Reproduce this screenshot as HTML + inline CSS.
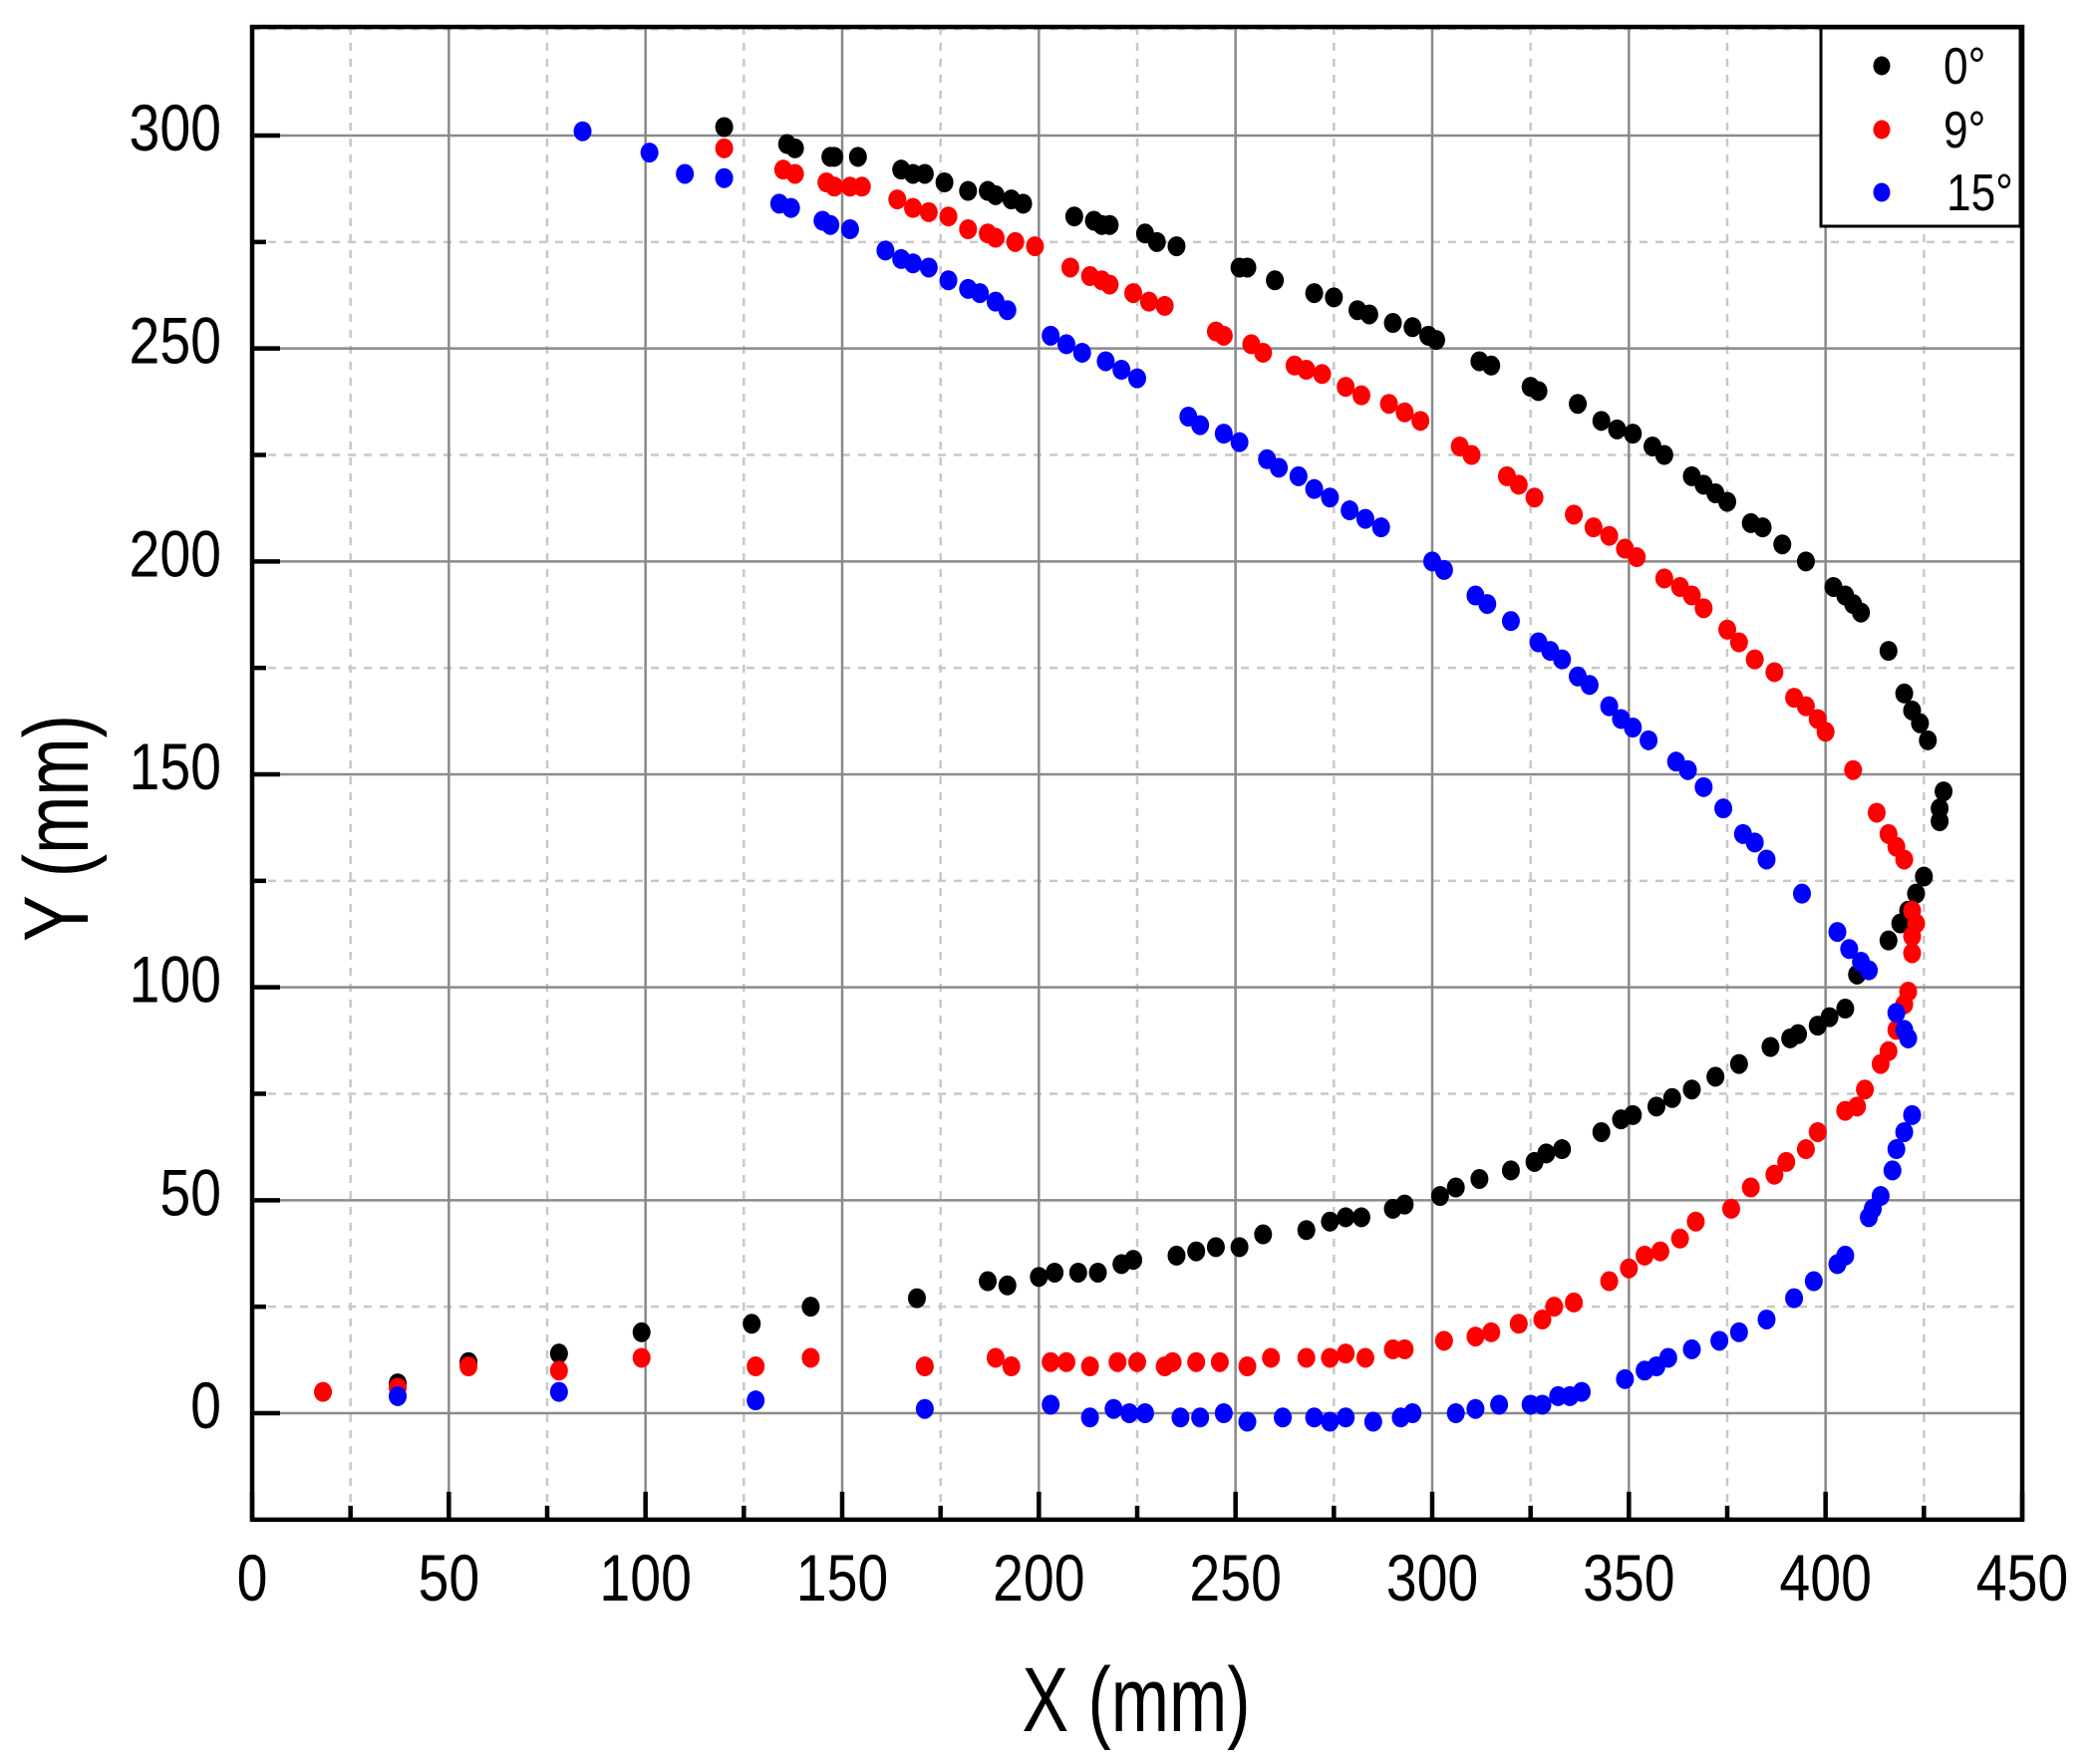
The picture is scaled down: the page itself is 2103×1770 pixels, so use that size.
<!DOCTYPE html>
<html><head><meta charset="utf-8"><style>
html,body{margin:0;padding:0;background:#fff}
svg{display:block;font-family:"Liberation Sans",Arial,sans-serif}
</style></head><body>
<svg id="chart" width="2103" height="1770" viewBox="0 0 2103 1770" xmlns="http://www.w3.org/2000/svg">
<g id="grid"></g>
<g id="series"></g>
<g id="axes"></g>
<g>
<rect x="1827" y="28" width="200" height="199" fill="#fff" stroke="#000" stroke-width="3"/>
<ellipse cx="1888" cy="66" rx="8.5" ry="9.5" fill="#000"/>
<ellipse cx="1888" cy="130" rx="8.5" ry="9.5" fill="#ff0000"/>
<ellipse cx="1888" cy="193" rx="8.5" ry="9.5" fill="#0000ff"/>
<text transform="translate(1950,84) scale(0.85,1)" font-size="52">0°</text>
<text transform="translate(1950,148) scale(0.85,1)" font-size="52">9°</text>
<text transform="translate(1953,211) scale(0.85,1)" font-size="52">15°</text>
</g>
<text transform="translate(1140,1737) scale(0.76,1)" font-size="92" text-anchor="middle">X (mm)</text>
<text transform="translate(88,831) rotate(-90) scale(0.76,1)" font-size="92" text-anchor="middle">Y (mm)</text>
</svg>
<script>
const xTicks = [0,50,100,150,200,250,300,350,400,450];
const yTicks = [0,50,100,150,200,250,300];
const xMinor = [25,75,125,175,225,275,325,375,425];
const yMinor = [-25,25,75,125,175,225,275,325];
const s0x = [120,136,138,147,148,154,165,168,171,176,182,187,189,193,196,209,214,216,218,227,230,235,251,253,260,270,275,281,284,290,295,299,301,312,315,325,327,337,343,347,351,356,359,366,369,372,375,381,384,389,395,402,405,407,409,416,420,422,424,426,430,429,429,425,423,421,419,416,408,405,401,398,393,391,386,378,372,366,361,357,351,348,343,333,329,326,320,312,306,302,293,290,282,278,274,268,257,251,245,240,235,224,221,215,210,204,200,192,187,169,142,127,99,78,55,37];
const s0y = [302,298,297,295,295,295,292,291,291,289,287,287,286,285,284,281,280,279,279,277,275,274,269,269,266,263,262,259,258,256,255,253,252,247,246,241,240,237,233,231,230,227,225,220,218,216,214,209,208,204,200,194,192,190,188,179,169,165,162,158,146,142,139,126,122,118,115,111,103,95,93,91,89,88,86,82,79,76,74,72,70,69,66,62,61,59,57,55,53,51,49,48,46,46,45,43,42,39,39,38,37,36,35,33,33,33,32,30,31,27,25,21,19,14,12,7];
const s9x = [120,135,138,146,148,152,155,164,168,172,177,182,187,189,194,199,208,213,216,218,224,228,232,245,247,254,257,265,268,272,278,282,289,293,297,307,310,319,322,326,336,341,345,349,352,359,363,366,369,375,378,382,387,392,395,398,400,407,413,416,418,420,422,423,422,422,421,420,418,416,414,410,408,405,398,395,390,387,381,376,367,363,358,354,350,345,336,331,328,322,315,311,303,293,290,283,278,274,268,259,253,246,240,234,232,225,220,213,207,203,193,189,171,142,128,99,78,55,37,18];
const s9y = [297,292,291,289,288,288,288,285,283,282,281,278,277,276,275,274,269,267,266,265,263,261,260,254,253,251,249,246,245,244,241,239,237,235,233,227,225,220,218,215,211,208,206,203,201,196,194,192,189,184,181,177,174,168,166,163,160,151,141,136,133,130,118,115,112,108,99,96,90,85,82,76,72,71,66,62,59,56,53,48,45,41,38,37,34,31,26,25,22,21,19,18,17,15,15,13,14,13,13,13,11,12,12,12,11,12,12,11,12,12,11,13,11,13,11,13,10,11,6,5];
const s15x = [84,101,110,120,134,137,145,147,152,161,165,168,172,177,182,185,189,192,203,207,211,217,221,225,238,241,247,251,258,261,266,270,274,279,283,287,300,303,311,314,320,327,330,333,337,340,345,348,351,355,362,365,369,374,379,382,385,394,403,406,409,411,418,420,421,422,420,418,417,414,412,411,405,403,397,392,385,378,373,366,360,357,354,349,338,335,332,328,325,317,311,306,295,292,285,278,274,270,262,253,247,241,236,227,223,219,213,203,171,128,78,37];
const s15y = [301,296,291,290,284,283,280,279,278,273,271,270,269,266,264,263,261,259,253,251,249,247,245,243,234,232,230,228,224,222,220,217,215,212,210,208,200,198,192,190,186,181,179,177,173,171,166,163,161,158,153,151,147,142,136,134,130,122,113,109,106,104,94,90,88,70,66,62,57,51,48,46,37,35,31,27,22,19,17,15,13,11,10,8,5,4,4,2,2,2,1,0,0,-1,-2,-1,-2,-1,-1,-2,0,-1,-1,0,0,1,-1,2,1,3,5,4];

const X0=253, X1=2029, Y0=1418, Y300=136;
const sx = v => X0 + (X1-X0)*v/450;
const sy = v => Y0 + (Y300-Y0)*v/300;
const NS='http://www.w3.org/2000/svg';
function mk(tag, attrs, parent){const e=document.createElementNS(NS,tag);for(const k in attrs)e.setAttribute(k,attrs[k]);parent.appendChild(e);return e;}
const gridG=document.getElementById('grid'), axesG=document.getElementById('axes'), serG=document.getElementById('series');
const yTop=sy(325.5), yBot=sy(-25);
xMinor.forEach(v=>{const l=mk('line',{x1:sx(v),x2:sx(v),y1:yTop,y2:yBot,stroke:'#c8c8c8','stroke-width':2.5,'stroke-dasharray':'8 8'},gridG);

});
yMinor.forEach(v=>{const l=mk('line',{x1:X0,x2:X1,y1:sy(v),y2:sy(v),stroke:'#c8c8c8','stroke-width':2.5,'stroke-dasharray':'8 8'},gridG);

});
xTicks.forEach(v=>{const l=mk('line',{x1:sx(v),x2:sx(v),y1:yTop,y2:yBot,stroke:'#8a8a8a','stroke-width':2.5},gridG);

});
yTicks.forEach(v=>{const l=mk('line',{x1:X0,x2:X1,y1:sy(v),y2:sy(v),stroke:'#8a8a8a','stroke-width':2.5},gridG);

});
const seriesList=[[s0x,s0y,'#000000','series-0deg'],[s9x,s9y,'#ff0000','series-9deg'],[s15x,s15y,'#0000ff','series-15deg']];
seriesList.forEach(([xs,ys,c,n])=>{const g=mk('g',{},serG);


xs.forEach((v,i)=>{const p=mk('ellipse',{cx:sx(v),cy:sy(ys[i]),rx:9,ry:10,fill:c},g);

});});
const frame=mk('rect',{x:X0,y:yTop,width:X1-X0,height:yBot-yTop,fill:'none',stroke:'#000','stroke-width':4.5},axesG);


xTicks.forEach(v=>{const t=mk('line',{x1:sx(v),x2:sx(v),y1:yBot,y2:yBot-28,stroke:'#000','stroke-width':4.5},axesG);


const tx=mk('text',{transform:`translate(${sx(v)},1606) scale(0.84,1)`,'font-size':66,'text-anchor':'middle'},axesG);
tx.textContent=v;

});
xMinor.forEach(v=>{const t=mk('line',{x1:sx(v),x2:sx(v),y1:yBot,y2:yBot-14,stroke:'#000','stroke-width':4.5},axesG);

});
yTicks.forEach(v=>{const t=mk('line',{x1:X0,x2:X0+28,y1:sy(v),y2:sy(v),stroke:'#000','stroke-width':4.5},axesG);


const tx=mk('text',{transform:`translate(222,${sy(v)+15}) scale(0.84,1)`,'font-size':66,'text-anchor':'end'},axesG);
tx.textContent=v;

});
yMinor.forEach(v=>{if(v<-20||v>320)return;const t=mk('line',{x1:X0,x2:X0+14,y1:sy(v),y2:sy(v),stroke:'#000','stroke-width':4.5},axesG);

});
</script>
</body></html>
